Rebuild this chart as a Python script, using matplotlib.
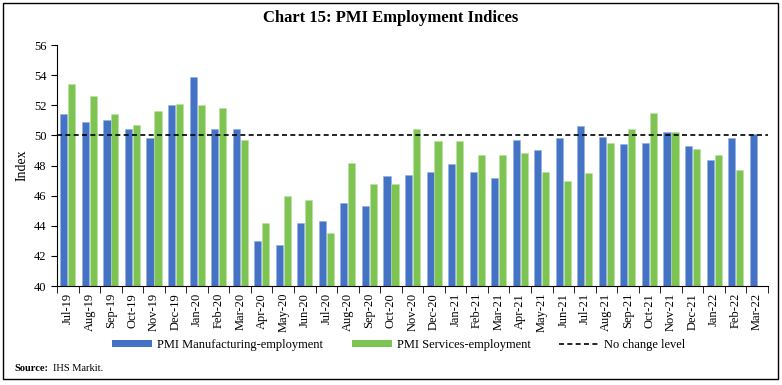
import matplotlib
matplotlib.use("Agg")
import matplotlib.pyplot as plt
import numpy as np
from matplotlib.lines import Line2D
from matplotlib.patches import Patch, Rectangle

months = ["Jul-19","Aug-19","Sep-19","Oct-19","Nov-19","Dec-19","Jan-20","Feb-20","Mar-20",
          "Apr-20","May-20","Jun-20","Jul-20","Aug-20","Sep-20","Oct-20","Nov-20","Dec-20",
          "Jan-21","Feb-21","Mar-21","Apr-21","May-21","Jun-21","Jul-21","Aug-21","Sep-21",
          "Oct-21","Nov-21","Dec-21","Jan-22","Feb-22","Mar-22"]
manufacturing = [51.4,50.9,51.0,50.4,49.8,52.0,53.9,50.4,50.4,
                 43.0,42.7,44.2,44.3,45.5,45.3,47.3,47.4,47.6,
                 48.1,47.6,47.2,49.7,49.0,49.8,50.6,49.9,49.4,
                 49.5,50.2,49.3,48.4,49.8,50.1]
services = [53.4,52.6,51.4,50.7,51.6,52.1,52.0,51.8,49.7,
            44.2,46.0,45.7,43.5,48.2,46.8,46.8,50.4,49.6,
            49.6,48.7,48.7,48.8,47.6,47.0,47.5,49.5,50.4,
            51.5,50.2,49.1,48.7,47.7,np.nan]
yticks = [40,42,44,46,48,50,52,54,56]
threshold = 50

plt.rcParams['font.family'] = ['Liberation Serif', 'DejaVu Serif']

fig = plt.figure(figsize=(7.82, 3.85), dpi=100)
ax = fig.add_axes([0.073, 0.257, 0.909, 0.626])

x = np.arange(len(months))
w = 0.33
blue = '#4472C4'
green = '#7EC452'
ax.bar(x - w/2 - 0.02, manufacturing, width=w, color=blue, edgecolor='#8FB0E8', linewidth=0.4)
ax.bar(x + w/2 + 0.02, services, width=w, color=green, edgecolor='#B9E19E', linewidth=0.4)
ax.axhline(threshold, color='black', linestyle=(0, (3, 2)), linewidth=1.2)

ax.set_ylim(40, 56)
ax.set_yticks(yticks)
ax.set_xlim(-0.5, len(months) - 0.5)
ax.set_xticks(x)
ax.set_xticklabels(months, rotation=90, fontsize=9)
ax.set_xticks(np.arange(-0.5, len(months), 1), minor=True)
ax.tick_params(axis='x', which='major', length=0, pad=5)
ax.tick_params(axis='x', which='minor', length=5, direction='out')
ax.tick_params(axis='y', labelsize=9, length=4, direction='out')
ax.spines['top'].set_visible(False)
ax.spines['right'].set_visible(False)
ax.set_ylabel('Index', fontsize=10)

fig.text(0.5, 0.953, 'Chart 15: PMI Employment Indices', ha='center', va='center',
         fontsize=12, fontweight='bold')

handles = [Patch(facecolor=blue, label='PMI Manufacturing-employment'),
           Patch(facecolor=green, label='PMI Services-employment'),
           Line2D([0], [0], color='black', linestyle=(0, (3, 2)), linewidth=1.2, label='No change level')]
fig.legend(handles=handles, loc='center', bbox_to_anchor=(0.51, 0.104), ncol=3,
           frameon=False, fontsize=9, handlelength=3.2, handleheight=0.5, handletextpad=0.4,
           columnspacing=2.3)

fig.text(0.018, 0.044, 'Source:', fontsize=7.5, fontweight='bold', va='center')
fig.text(0.068, 0.044, 'IHS Markit.', fontsize=7.5, va='center')

fig.patches.append(Rectangle((0.004, 0.0156), 0.991, 0.977, transform=fig.transFigure,
                             fill=False, edgecolor='black', linewidth=1.0))

fig.savefig('out.png', dpi=100)
